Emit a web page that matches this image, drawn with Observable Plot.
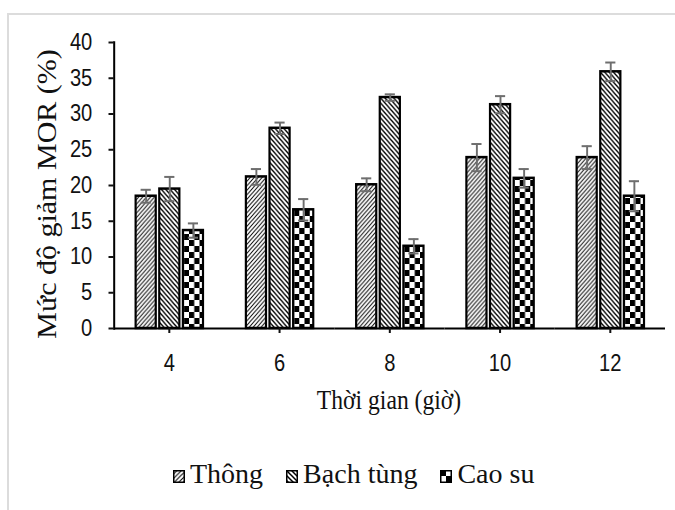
<!DOCTYPE html>
<html>
<head>
<meta charset="utf-8">
<script src="https://cdn.jsdelivr.net/npm/d3@7"></script>
<script src="https://cdn.jsdelivr.net/npm/@observablehq/plot@0.6"></script>
<style>
  html, body { margin: 0; padding: 0; background: #fff; overflow: hidden; }
  body { width: 675px; height: 510px; position: relative; }
  #border { position: absolute; left: 7px; top: 13px; right: -10px; bottom: -10px;
            border-left: 2px solid #dcdcdc; border-top: 2px solid #dcdcdc; }
  #stage { position: absolute; left: 0; top: 0; width: 771px; height: 510px;
           transform: scaleX(0.875); transform-origin: 0 0; }
  #xtitle { position: absolute; left: 244.6px; top: 387.4px; width: 400px; text-align: center;
            font-family: "Liberation Serif", "Times New Roman", serif; font-size: 27px; line-height: 27px; color: #111; }
  #ytitle { position: absolute; left: -145.7px; top: 179px; width: 400px; height: 30px; text-align: center;
            font-family: "Liberation Serif", "Times New Roman", serif; font-size: 30px; line-height: 30px; color: #111;
            transform: rotate(-90deg); transform-origin: 50% 50%; white-space: nowrap; }
  #legend { position: absolute; left: 173px; top: 459.5px; display: flex; white-space: nowrap;
            font-family: "Liberation Serif", "Times New Roman", serif; font-size: 28px; line-height: 28px; color: #111; }
  .item { display: inline-block; margin-right: 23px; }
  .item svg { vertical-align: baseline; margin-right: 5px; }
</style>
</head>
<body>
<div id="border"></div>
<div id="stage">
  <div id="chart"></div>
  <div id="xtitle">Thời gian (giờ)</div>
  <div id="ytitle">Mức độ giảm MOR (%)</div>
</div>
<div id="legend"></div>
<script>
// ---- data ----
const times = [4, 6, 8, 10, 12];
const series = ["Thông", "Bạch tùng", "Cao su"];
const thong = [18.5, 21.2, 20.1, 23.9, 23.9];
const thongErr = [0.9, 1.1, 0.9, 1.9, 1.6];
const bachTung = [19.5, 28.0, 32.3, 31.3, 35.9];
const bachTungErr = [1.7, 0.8, 0.45, 1.2, 1.3];
const caoSu = [13.7, 16.6, 11.5, 21.0, 18.5];
const caoSuErr = [1.0, 1.5, 1.0, 1.3, 2.1];
const yTicks = [0, 5, 10, 15, 20, 25, 30, 35, 40];

const values = [thong, bachTung, caoSu];
const errors = [thongErr, bachTungErr, caoSuErr];
const patternIds = ["p-thong", "p-bach", "p-cao"];

const data = times.flatMap((t, i) => series.map((s, j) => ({
  time: t, series: s, value: values[j][i], err: errors[j][i]
})));

const patternDefs = (suffix) => `
  <pattern id="p-thong${suffix}" patternUnits="userSpaceOnUse" width="4.5" height="4.5">
    <rect width="4.5" height="4.5" fill="#fff"/>
    <path d="M0,4.5 L4.5,0 M-1,1 L1,-1 M3.5,5.5 L5.5,3.5" stroke="#000" stroke-width="1.1"/>
  </pattern>
  <pattern id="p-bach${suffix}" patternUnits="userSpaceOnUse" width="5" height="5">
    <rect width="5" height="5" fill="#fff"/>
    <path d="M0,0 L5,5 M-1,4 L1,6 M4,-1 L6,1" stroke="#000" stroke-width="1.5"/>
  </pattern>
  <pattern id="p-cao${suffix}" patternUnits="userSpaceOnUse" width="12" height="12">
    <rect width="12" height="12" fill="#fff"/>
    <rect x="0" y="0" width="6" height="6" fill="#000"/>
    <rect x="6" y="6" width="6" height="6" fill="#000"/>
  </pattern>`;

const chart = Plot.plot({
  width: 771,
  height: 440,
  marginLeft: 130,
  marginRight: 11,
  marginTop: 42,
  marginBottom: 112,
  style: {fontFamily: "Liberation Sans, Arial, sans-serif", fontSize: "23px", color: "#111", background: "transparent", overflow: "visible"},
  fx: {domain: times, padding: 0, label: null},
  x: {domain: series, paddingInner: 0.164, paddingOuter: 0.885, axis: null},
  y: {domain: [0, 40], label: null},
  color: {domain: series, range: patternIds.map(id => `url(#${id})`)},
  marks: [
    Plot.barY(data, {fx: "time", x: "series", y: "value", fill: "series", stroke: "#000", strokeWidth: 2.5}),
    Plot.ruleX(data, {fx: "time", x: "series", y1: d => d.value - d.err, y2: d => d.value + d.err, stroke: "#6e6e6e", strokeWidth: 2.2}),
    Plot.tickY(data, {fx: "time", x: "series", y: d => d.value + d.err, insetLeft: 5.7, insetRight: 5.7, stroke: "#6e6e6e", strokeWidth: 2}),
    Plot.tickY(data, {fx: "time", x: "series", y: d => d.value - d.err, insetLeft: 5.7, insetRight: 5.7, stroke: "#6e6e6e", strokeWidth: 2}),
    Plot.ruleY([0], {stroke: "#000", strokeWidth: 2}),
    Plot.frame({anchor: "left", facetAnchor: "left", stroke: "#000", strokeWidth: 2.3}),
    Plot.axisY({ticks: yTicks, tickSize: 6, tickPadding: 19, label: null, facetAnchor: "left", strokeWidth: 2}),
    Plot.axisFx({anchor: "bottom", tickSize: 5, tickPadding: 21, label: null, strokeWidth: 2.3})
  ]
});

chart.insertAdjacentHTML("afterbegin", `<defs>${patternDefs("")}</defs>`);
document.getElementById("chart").appendChild(chart);

// legend
const legend = document.getElementById("legend");
series.forEach((s, j) => {
  const item = document.createElement("span");
  item.className = "item";
  item.innerHTML = `<svg width="12" height="13" viewBox="0 0 12 13"><defs>${patternDefs("-lg")}</defs>
    <rect x="0.75" y="0.75" width="10.5" height="11.5" fill="url(#${patternIds[j]}-lg)" stroke="#000" stroke-width="1.5"/></svg>${s}`;
  legend.appendChild(item);
});
</script>
</body>
</html>
